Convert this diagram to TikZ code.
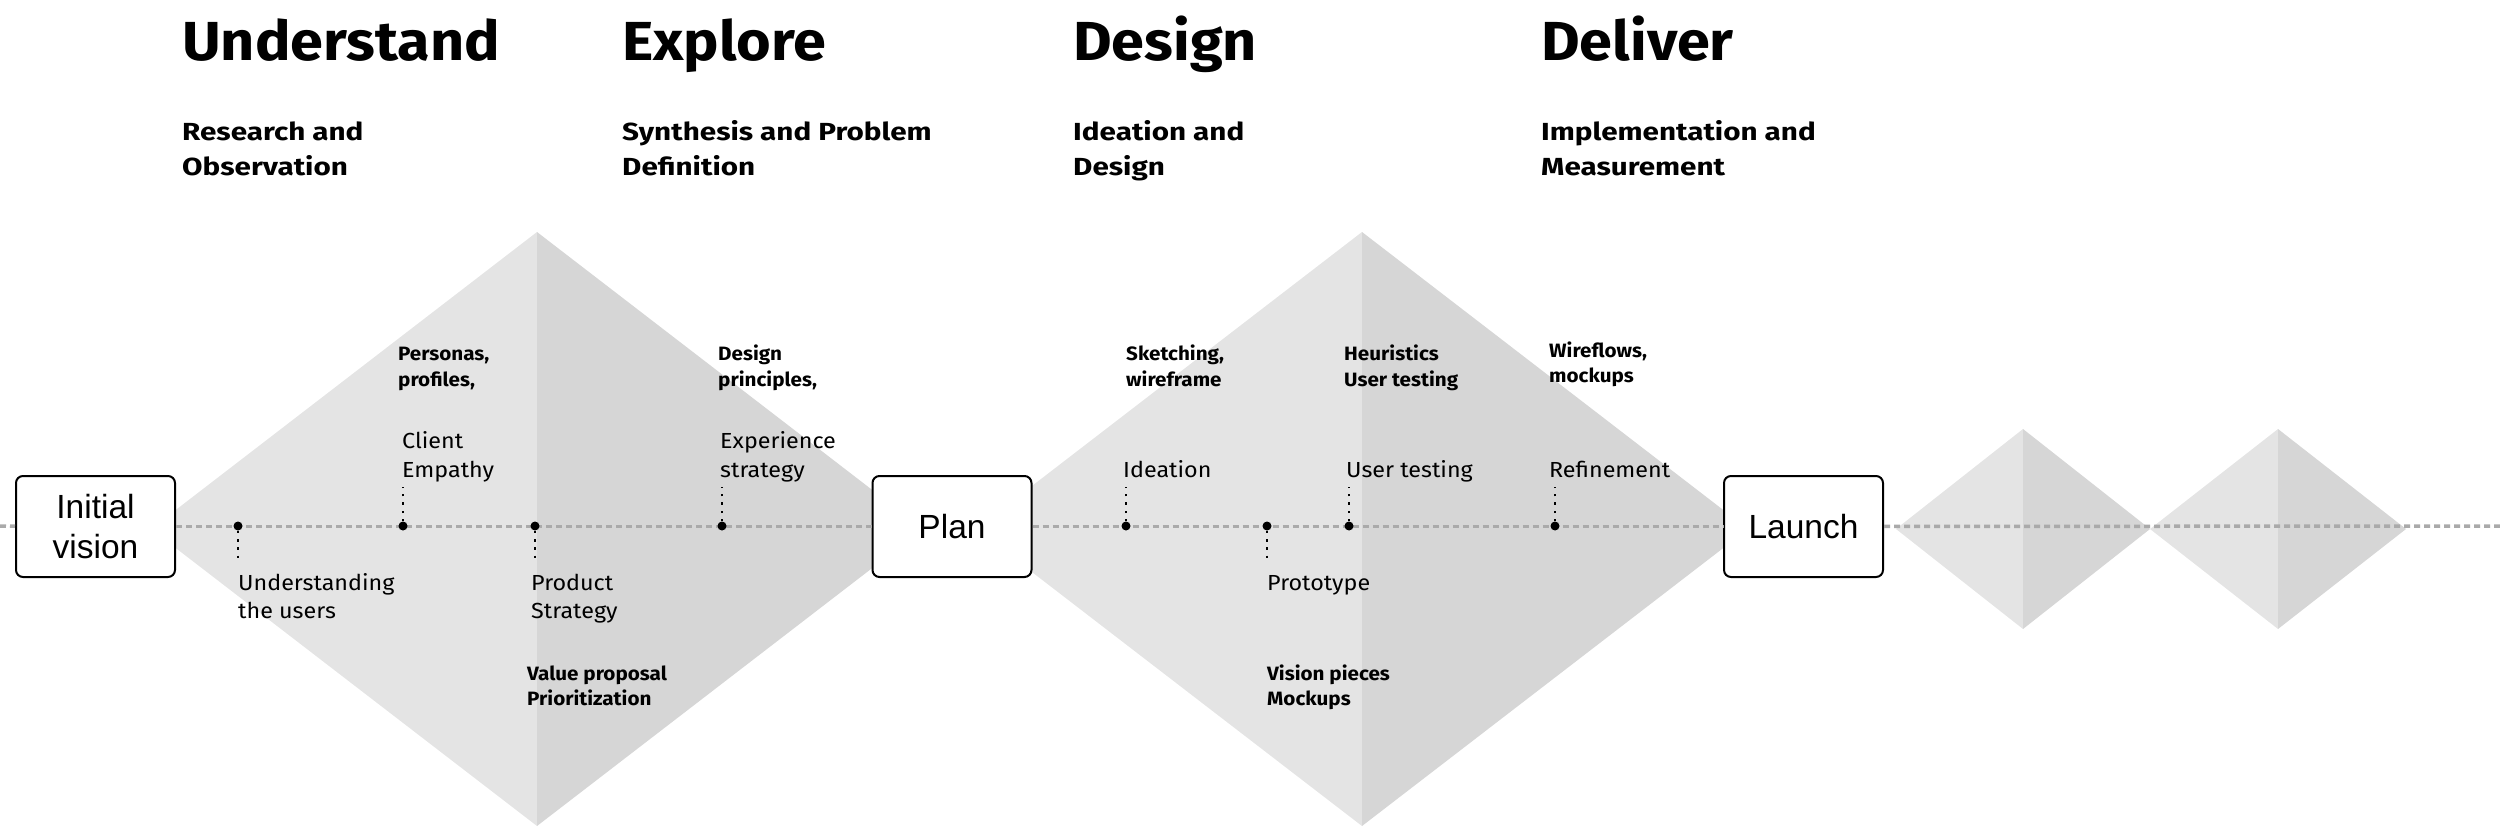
\documentclass[tikz,border=0pt]{standalone}
\usepackage{fontspec}
\setmainfont{Fira Sans}
\newfontfamily\headf{Fira Sans}[FakeStretch=1.08]
\newfontfamily\subf{Fira Sans}[FakeStretch=1.2]
\newfontfamily\lblf{Fira Sans}[FakeStretch=1.07]
\newfontfamily\boxfont{Liberation Sans}
\definecolor{dlight}{RGB}{228,228,228}
\definecolor{ddark}{RGB}{214,214,214}
\definecolor{axisgray}{RGB}{170,170,170}
\newcommand\twoln[3]{\vtop{\baselineskip=#3pt\lineskiplimit=-100pt\hbox{#1}\hbox{#2}}}
\newcommand\diam[4]{%
  \fill[dlight] (#1-#3,#2) -- (#1,#2-#4) -- (#1,#2+#4) -- cycle;
  \fill[ddark] (#1,#2-#4) -- (#1+#3,#2) -- (#1,#2+#4) -- cycle;}
\tikzset{
  head/.style={anchor=base west, inner sep=0pt, font=\headf\fontsize{55}{66}\selectfont\bfseries},
  sub/.style={anchor=base west, inner sep=0pt, font=\subf\fontsize{24.7}{35}\selectfont\bfseries},
  lbl/.style={anchor=base west, inner sep=0pt, font=\lblf\fontsize{21.8}{29}\selectfont},
  tool/.style={anchor=base west, inner sep=0pt, font=\lblf\fontsize{19.3}{26}\selectfont\bfseries},
  stage/.style={draw=black, line width=2pt, rounded corners=7pt, fill=white,
    minimum width=159pt, minimum height=101pt, inner sep=0pt, align=center,
    font=\boxfont\fontsize{33.5}{40}\selectfont},
  dot/.style={circle, fill=black, inner sep=0pt, minimum size=9pt},
  lead/.style={line width=2.5pt, dash pattern=on 2.5pt off 5.8pt, black},
  axisline/.style={line width=3.5pt, dash pattern=on 6pt off 4pt, axisgray},
}
\begin{document}
\begin{tikzpicture}[x=1pt,y=-1pt]
\useasboundingbox (0,0) rectangle (2500,827);
% diamonds
\diam{537}{529}{386}{297}
\diam{1362}{529}{386}{297}
\diam{2023}{529}{127}{100}
\diam{2278}{529}{128}{100}
% headings
\node[head] (h1) at (182,60) {Understand};
\node[head] (h2) at (622,60) {Explore};
\node[head] (h3) at (1073,60) {Design};
\node[head] (h4) at (1541,60) {Deliver};
\node[sub] (s1) at (182,140) {\twoln{Research and}{Observation}{35}};
\node[sub] (s2) at (622,140) {\twoln{Synthesis and Problem}{Definition}{35}};
\node[sub] (s3) at (1073,140) {\twoln{Ideation and}{Design}{35}};
\node[sub] (s4) at (1541,140) {\twoln{Implementation and}{Measurement}{35}};
% axis and stages
\coordinate (axL) at (0,526);
\coordinate (axR) at (2500,526);
\node[stage] (iv) at (95.5,526.5) {Initial\\vision};
\node[stage] (plan) at (952,526.5) {Plan};
\node[stage] (launch) at (1803.5,526.5) {Launch};
\draw[axisline] (axL) -- (iv);
\draw[axisline] (iv) -- (plan);
\draw[axisline] (plan) -- (launch);
\draw[axisline] (launch) -- (axR);
% milestones
\node[dot] (d1) at (238,526) {};
\node[dot] (d2) at (403,526) {};
\node[dot] (d3) at (535,526) {};
\node[dot] (d4) at (722,526) {};
\node[dot] (d5) at (1126,526) {};
\node[dot] (d6) at (1267,526) {};
\node[dot] (d7) at (1349,526) {};
\node[dot] (d8) at (1555,526) {};
\coordinate (e1) at (238,563);
\coordinate (e2) at (403,487);
\coordinate (e3) at (535,563);
\coordinate (e4) at (722,487);
\coordinate (e5) at (1126,487);
\coordinate (e6) at (1267,563);
\coordinate (e7) at (1349,487);
\coordinate (e8) at (1555,487);
\foreach \i in {1,...,8} {\draw[lead] (d\i) -- (e\i);}
% labels
\node[lbl] (l1) at (238,590) {\twoln{Understanding}{the users}{28}};
\node[lbl] (l2) at (402,448) {\twoln{Client}{Empathy}{29}};
\node[lbl] (l3) at (531,590) {\twoln{Product}{Strategy}{28}};
\node[lbl] (l4) at (720,448) {\twoln{Experience}{strategy}{29}};
\node[lbl] (l5) at (1123,477) {Ideation};
\node[lbl] (l6) at (1267,590) {Prototype};
\node[lbl] (l7) at (1346,477) {User testing};
\node[lbl] (l8) at (1549,477) {Refinement};
% tools
\node[tool] (t2) at (398,360) {\twoln{Personas,}{profiles,}{26}};
\node[tool] (t3) at (527,680) {\twoln{Value proposal}{Prioritization}{25}};
\node[tool] (t4) at (718,360) {\twoln{Design}{principles,}{26}};
\node[tool] (t5) at (1126,360) {\twoln{Sketching,}{wireframe}{26}};
\node[tool] (t6) at (1267,680) {\twoln{Vision pieces}{Mockups}{25}};
\node[tool] (t7) at (1344,360) {\twoln{Heuristics}{User testing}{26}};
\node[tool] (t8) at (1549,357) {\twoln{Wireflows,}{mockups}{25}};
\end{tikzpicture}
\end{document}
